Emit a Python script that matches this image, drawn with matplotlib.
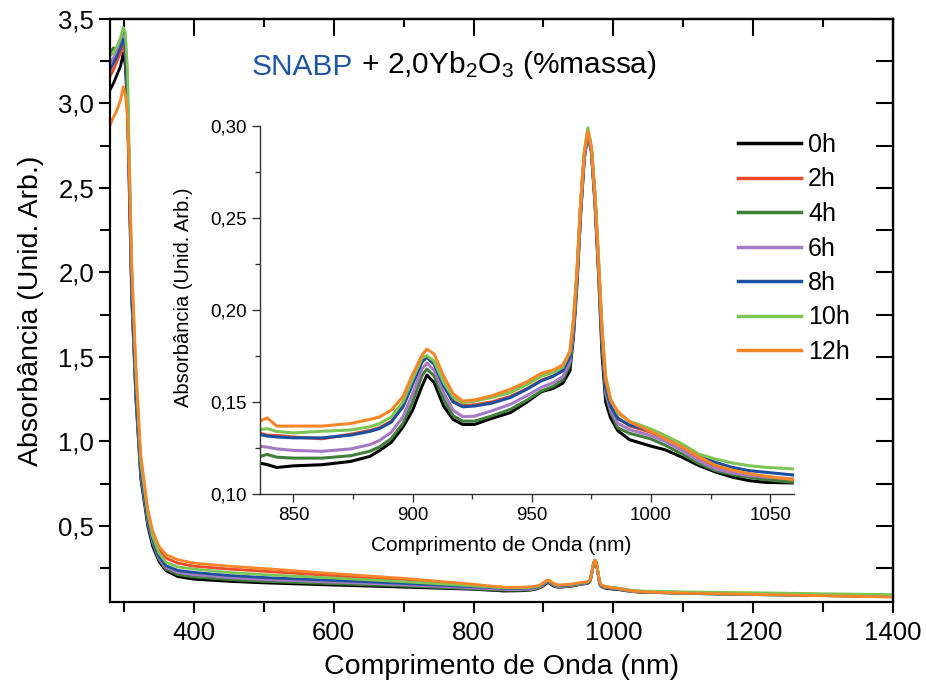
import matplotlib
matplotlib.use("Agg")
import matplotlib.pyplot as plt
from matplotlib.ticker import MultipleLocator, FuncFormatter

plt.rcParams['font.family'] = ['Liberation Sans', 'DejaVu Sans']
plt.rcParams['mathtext.default'] = 'regular'

# wavelength grids (nm)
uv_x = [280, 285, 290, 295, 299, 302, 305, 308, 311, 317, 324, 334, 341, 350,
        360, 377, 400, 450, 500, 600, 700, 800]
ins_x = [836, 839, 843, 850, 862, 874, 882, 886, 891, 896,
         900, 904, 906, 909, 913, 917, 921, 926, 933, 941,
         948, 954, 959, 963, 966, 967.5, 969, 970.5, 972, 973.5,
         975, 976.5, 978, 979.5, 981, 983, 986, 991, 1000, 1006,
         1013, 1020, 1027, 1034, 1041, 1048, 1060]
ir_x = [1100, 1200, 1300, 1400]

labels = ['0h', '2h', '4h', '6h', '8h', '10h', '12h']
colors = ['#000000', '#ee4b2b', '#3f7f3a', '#a679c4', '#1c4f9f', '#7cc655', '#f7862a']

# UV part (280-800 nm)
uv_0h = [3.08, 3.12, 3.17, 3.22, 3.30, 3.22, 2.95, 2.40, 1.85, 1.25, 0.78, 0.50, 0.38, 0.29, 0.235, 0.200, 0.185, 0.172, 0.163, 0.150, 0.138, 0.125]
uv_2h = [3.16, 3.20, 3.25, 3.30, 3.34, 3.28, 3.00, 2.45, 1.90, 1.32, 0.85, 0.57, 0.45, 0.36, 0.31, 0.28, 0.262, 0.245, 0.232, 0.205, 0.178, 0.145]
uv_4h = [3.30, 3.33, 3.30, 3.37, 3.42, 3.35, 3.05, 2.50, 1.90, 1.28, 0.80, 0.52, 0.40, 0.30, 0.245, 0.212, 0.198, 0.183, 0.172, 0.158, 0.145, 0.128]
uv_6h = [3.24, 3.27, 3.31, 3.36, 3.40, 3.36, 3.10, 2.50, 1.90, 1.30, 0.82, 0.53, 0.41, 0.31, 0.255, 0.225, 0.212, 0.195, 0.183, 0.168, 0.152, 0.133]
uv_8h = [3.20, 3.24, 3.28, 3.33, 3.38, 3.33, 3.05, 2.50, 1.90, 1.30, 0.83, 0.54, 0.42, 0.32, 0.265, 0.237, 0.225, 0.207, 0.195, 0.178, 0.160, 0.140]
uv_10h = [3.28, 3.30, 3.34, 3.39, 3.45, 3.42, 3.20, 2.65, 2.05, 1.40, 0.88, 0.57, 0.44, 0.34, 0.285, 0.258, 0.245, 0.225, 0.212, 0.192, 0.170, 0.145]
uv_12h = [2.87, 2.92, 2.96, 3.02, 3.10, 3.05, 2.92, 2.55, 2.05, 1.45, 0.92, 0.60, 0.47, 0.38, 0.33, 0.30, 0.280, 0.262, 0.248, 0.218, 0.190, 0.155]

# Yb3+ band region (836-1060 nm), also shown in the inset
ins_0h = [0.1168, 0.1160, 0.1144, 0.1153, 0.1159, 0.1177, 0.1204, 0.1235, 0.1280, 0.1365,
          0.1455, 0.1588, 0.1646, 0.1606, 0.1478, 0.1405, 0.1378, 0.1378, 0.1410, 0.1442,
          0.1500, 0.1556, 0.1574, 0.1602, 0.1670, 0.1860, 0.2150, 0.2520, 0.2820, 0.2960,
          0.2860, 0.2580, 0.2200, 0.1750, 0.1500, 0.1415, 0.1345, 0.1295, 0.1260, 0.1240,
          0.1200, 0.1155, 0.1120, 0.1092, 0.1073, 0.1063, 0.1060]
ins_2h = [0.1330, 0.1320, 0.1318, 0.1310, 0.1300, 0.1325, 0.1345, 0.1360, 0.1395, 0.1480,
          0.1600, 0.1722, 0.1745, 0.1710, 0.1592, 0.1505, 0.1480, 0.1485, 0.1500, 0.1530,
          0.1572, 0.1618, 0.1642, 0.1672, 0.1748, 0.1925, 0.2205, 0.2575, 0.2845, 0.2970,
          0.2870, 0.2615, 0.2245, 0.1855, 0.1585, 0.1485, 0.1415, 0.1370, 0.1335, 0.1298,
          0.1250, 0.1198, 0.1150, 0.1122, 0.1103, 0.1090, 0.1075]
ins_4h = [0.1204, 0.1215, 0.1200, 0.1195, 0.1195, 0.1208, 0.1232, 0.1255, 0.1300, 0.1385,
          0.1500, 0.1645, 0.1679, 0.1642, 0.1515, 0.1425, 0.1396, 0.1396, 0.1423, 0.1460,
          0.1510, 0.1560, 0.1585, 0.1620, 0.1700, 0.1880, 0.2170, 0.2540, 0.2830, 0.2960,
          0.2860, 0.2600, 0.2210, 0.1810, 0.1540, 0.1445, 0.1360, 0.1330, 0.1299, 0.1265,
          0.1217, 0.1165, 0.1127, 0.1105, 0.1091, 0.1078, 0.1063]
ins_6h = [0.1259, 0.1255, 0.1245, 0.1237, 0.1232, 0.1245, 0.1268, 0.1290, 0.1335, 0.1420,
          0.1545, 0.1680, 0.1712, 0.1672, 0.1551, 0.1455, 0.1420, 0.1423, 0.1451, 0.1487,
          0.1535, 0.1580, 0.1605, 0.1638, 0.1720, 0.1900, 0.2180, 0.2550, 0.2830, 0.2960,
          0.2860, 0.2600, 0.2220, 0.1830, 0.1560, 0.1460, 0.1385, 0.1350, 0.1317, 0.1285,
          0.1236, 0.1180, 0.1136, 0.1115, 0.1100, 0.1092, 0.1082]
ins_8h = [0.1323, 0.1315, 0.1310, 0.1305, 0.1305, 0.1320, 0.1340, 0.1355, 0.1390, 0.1475,
          0.1598, 0.1720, 0.1743, 0.1706, 0.1588, 0.1500, 0.1474, 0.1478, 0.1493, 0.1524,
          0.1570, 0.1615, 0.1640, 0.1670, 0.1745, 0.1920, 0.2200, 0.2570, 0.2840, 0.2970,
          0.2870, 0.2610, 0.2240, 0.1850, 0.1580, 0.1480, 0.1410, 0.1375, 0.1344, 0.1308,
          0.1263, 0.1208, 0.1172, 0.1145, 0.1127, 0.1118, 0.1103]
ins_10h = [0.1350, 0.1355, 0.1340, 0.1332, 0.1341, 0.1348, 0.1365, 0.1382, 0.1418, 0.1502,
           0.1625, 0.1740, 0.1752, 0.1722, 0.1606, 0.1526, 0.1496, 0.1505, 0.1524, 0.1551,
           0.1595, 0.1640, 0.1660, 0.1690, 0.1770, 0.1950, 0.2230, 0.2590, 0.2860, 0.2990,
           0.2890, 0.2640, 0.2280, 0.1900, 0.1640, 0.1520, 0.1440, 0.1395, 0.1353, 0.1317,
           0.1272, 0.1217, 0.1190, 0.1169, 0.1154, 0.1145, 0.1136]
ins_12h = [0.1396, 0.1414, 0.1369, 0.1369, 0.1369, 0.1383, 0.1405, 0.1418, 0.1455, 0.1530,
           0.1650, 0.1755, 0.1788, 0.1761, 0.1642, 0.1545, 0.1505, 0.1511, 0.1533, 0.1569,
           0.1610, 0.1656, 0.1674, 0.1701, 0.1775, 0.1946, 0.2218, 0.2580, 0.2852, 0.2970,
           0.2880, 0.2620, 0.2260, 0.1880, 0.1620, 0.1510, 0.1450, 0.1393, 0.1340, 0.1300,
           0.1256, 0.1203, 0.1156, 0.1130, 0.1111, 0.1097, 0.1078]

# NIR tail (1100-1400 nm)
ir_0h = [0.101, 0.094, 0.088, 0.082]
ir_2h = [0.104, 0.097, 0.090, 0.083]
ir_4h = [0.101, 0.094, 0.088, 0.082]
ir_6h = [0.103, 0.096, 0.089, 0.083]
ir_8h = [0.106, 0.099, 0.092, 0.086]
ir_10h = [0.110, 0.105, 0.099, 0.094]
ir_12h = [0.103, 0.095, 0.087, 0.079]

uv_all = [uv_0h, uv_2h, uv_4h, uv_6h, uv_8h, uv_10h, uv_12h]
ins_all = [ins_0h, ins_2h, ins_4h, ins_6h, ins_8h, ins_10h, ins_12h]
ir_all = [ir_0h, ir_2h, ir_4h, ir_6h, ir_8h, ir_10h, ir_12h]


def comma(fmt):
    return FuncFormatter(lambda v, p: (fmt % v).replace('.', ','))


fig = plt.figure(figsize=(9.26, 6.91), dpi=100)
ax = fig.add_axes([0.1188, 0.1288, 0.8456, 0.8437])

full_x = uv_x + ins_x + ir_x
lines = []
for i in range(len(labels)):
    y = uv_all[i] + ins_all[i] + ir_all[i]
    ln, = ax.plot(full_x, y, color=colors[i], lw=2.0, label=labels[i])
    lines.append(ln)

ax.set_xlim(280, 1400)
ax.set_ylim(0.05, 3.5)
ax.xaxis.set_major_locator(MultipleLocator(200))
ax.xaxis.set_minor_locator(MultipleLocator(100))
ax.yaxis.set_major_locator(MultipleLocator(0.5))
ax.yaxis.set_minor_locator(MultipleLocator(0.25))
ax.yaxis.set_major_formatter(comma('%.1f'))
ax.tick_params(which='both', direction='out', width=1.5, labelsize=18.5)
ax.tick_params(which='major', length=8)
ax.tick_params(which='minor', length=7)
ax.tick_params(axis='x', pad=6)
for s in ax.spines.values():
    s.set_linewidth(1.6)

# mirrored ticks pointing inwards on top and right
top = ax.secondary_xaxis('top')
top.xaxis.set_major_locator(MultipleLocator(200))
top.xaxis.set_minor_locator(MultipleLocator(100))
top.tick_params(which='both', direction='in', width=1.5, labeltop=False)
top.tick_params(which='major', length=12)
top.tick_params(which='minor', length=6)
top.spines['top'].set_linewidth(1.6)
right = ax.secondary_yaxis('right')
right.yaxis.set_major_locator(MultipleLocator(0.5))
right.yaxis.set_minor_locator(MultipleLocator(0.25))
right.tick_params(which='both', direction='in', width=1.5, length=12, labelright=False)
right.spines['right'].set_linewidth(1.6)

ax.set_xlabel('Comprimento de Onda (nm)', fontsize=20.5, labelpad=6)
ax.set_ylabel('Absorbância (Unid. Arb.)', fontsize=20.5, labelpad=10)

# title with coloured glass name
t1 = fig.text(252 / 926, 1 - 75 / 691, 'SNABP', color='#1f55a5', fontsize=21.5,
              ha='left', va='baseline')
ax.annotate(' + 2,0Yb$_2$O$_3$ (%massa)', xy=(1, 0), xycoords=t1,
            ha='left', va='bottom', fontsize=21.5, color='black')

# inset
ins = fig.add_axes([0.2808, 0.2851, 0.5767, 0.5326])
ins.patch.set_alpha(0)
for i in range(len(labels)):
    ins.plot(ins_x, ins_all[i], color=colors[i], lw=2.2)
ins.set_xlim(836, 1060)
ins.set_ylim(0.10, 0.30)
ins.spines['top'].set_visible(False)
ins.spines['right'].set_visible(False)
for s in ['left', 'bottom']:
    ins.spines[s].set_linewidth(1.0)
    ins.spines[s].set_color('#333333')
ins.xaxis.set_major_locator(MultipleLocator(50))
ins.xaxis.set_minor_locator(MultipleLocator(25))
ins.yaxis.set_major_locator(MultipleLocator(0.05))
ins.yaxis.set_minor_locator(MultipleLocator(0.025))
ins.yaxis.set_major_formatter(comma('%.2f'))
ins.tick_params(which='both', direction='out', width=1.0, color='#333333', labelsize=13.5)
ins.tick_params(which='major', length=6)
ins.tick_params(which='minor', length=3.5)
ins.set_xlabel('Comprimento de Onda (nm)', fontsize=15)
ins.xaxis.set_label_coords(0.452, -0.115)
ins.set_ylabel('Absorbância (Unid. Arb.)', fontsize=14.5)
ins.yaxis.set_label_coords(-0.125, 0.535)

leg = fig.legend(handles=lines, labels=labels, loc='upper left',
                 bbox_to_anchor=(738 / 926, 1 - 133 / 691), frameon=False,
                 fontsize=18, handlelength=2.5, handletextpad=0.3,
                 labelspacing=0.42, borderpad=0, borderaxespad=0)
for h in leg.legend_handles:
    h.set_linewidth(2.5)

fig.savefig('out.png', dpi=100)
